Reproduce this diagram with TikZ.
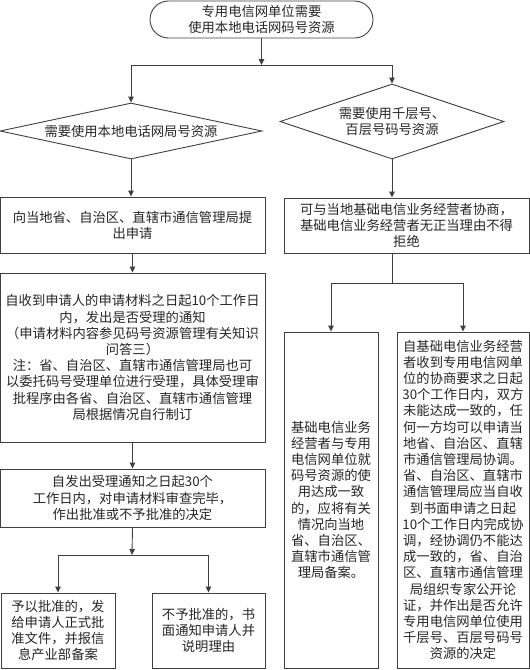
\documentclass[tikz,border=0pt]{standalone}
\usepackage{fontspec}
\setmainfont{Noto Sans CJK SC}
\usetikzlibrary{arrows.meta,shapes.geometric,shapes.misc}
\begin{document}
\begin{tikzpicture}[x=1pt,y=-1pt,
  every node/.style={font=\fontsize{13.3pt}{16.2pt}\selectfont, text=black!85, align=center, inner sep=0pt},
  line/.style={draw=black!75, line width=0.9pt},
  box/.style={line, rectangle, anchor=center},
  term/.style={line, rounded rectangle},
  dec/.style={line, diamond},
  arr/.style={line, -{Triangle[length=6pt,width=5.5pt]}},
  plain/.style={line}
]
\useasboundingbox (0,0) rectangle (530,670);
% top terminal
\node[term, minimum width=223pt, minimum height=37pt] (top) at (261.5,19.5) {专用电信网单位需要\\使用本地电话网码号资源};
% diamonds
\node[dec, shape aspect=4.7, minimum width=262pt, minimum height=56pt] (dl) at (131,131) {需要使用本地电话网局号资源};
\node[dec, shape aspect=3, minimum width=224pt, minimum height=75pt] (dr) at (392,121.5) {需要使用千层号、\\百层号码号资源};
% left column
\node[box, minimum width=265pt, minimum height=56pt] (l1) at (132.5,225) {向当地省、自治区、直辖市通信管理局提\\出申请};
\node[box, minimum width=265pt, minimum height=169pt] (l2) at (132.5,357.5) {自收到申请人的申请材料之日起10个工作日\\内，发出是否受理的通知\\（申请材料内容参见码号资源管理有关知识\\问答三）\\注：省、自治区、直辖市通信管理局也可\\以委托码号受理单位进行受理，具体受理审\\批程序由各省、自治区、直辖市通信管理\\局根据情况自行制订};
\node[box, minimum width=265pt, minimum height=58pt] (l3) at (132.5,498) {自发出受理通知之日起30个\\工作日内，对申请材料审查完毕，\\作出批准或不予批准的决定};
\node[box, minimum width=114pt, minimum height=75pt] (l4) at (58,630.5) {予以批准的，发\\给申请人正式批\\准文件，并报信\\息产业部备案};
\node[box, minimum width=113pt, minimum height=75pt] (l5) at (208.5,630.5) {不予批准的，书\\面通知申请人并\\说明理由};
% right column
\node[box, minimum width=245pt, minimum height=55pt] (r1) at (406.5,225.5) {可与当地基础电信业务经营者协商，\\基础电信业务经营者无正当理由不得\\拒绝};
\node[box, minimum width=94pt, minimum height=336pt] (r2) at (331,500) {基础电信业务\\经营者与专用\\电信网单位就\\码号资源的使\\用达成一致\\的，应将有关\\情况向当地\\省、自治区、\\直辖市通信管\\理局备案。};
\node[box, minimum width=132pt, minimum height=336pt] (r3) at (463,500) {自基础电信业务经营\\者收到专用电信网单\\位的协商要求之日起\\30个工作日内，双方\\未能达成一致的，任\\何一方均可以申请当\\地省、自治区、直辖\\市通信管理局协调。\\省、自治区、直辖市\\通信管理局应当自收\\到书面申请之日起\\10个工作日内完成协\\调，经协调仍不能达\\成一致的，省、自治\\区、直辖市通信管理\\局组织专家公开论\\证，并作出是否允许\\专用电信网单位使用\\千层号、百层号码号\\资源的决定};
% junction coordinates
\coordinate (j1) at (261.5,65);
\coordinate (j2) at (132,555);
\coordinate (j3) at (392,283);
% connectors
\draw[arr] (top.south) -- (j1);
\draw[plain] (dl.north |- j1) -- (dr.north |- j1);
\draw[arr] (dl.north |- j1) -- (dl.north);
\draw[arr] (dr.north |- j1) -- (dr.north);
\draw[arr] (dl.south) -- (dl.south |- l1.north);
\draw[arr] (l1.south) -- (l2.north);
\draw[arr] (l2.south) -- (l3.north);
\draw[arr] (l3.south) -- (j2);
\draw[plain] (l4.north |- j2) -- (l5.north |- j2);
\draw[arr] (l4.north |- j2) -- (l4.north);
\draw[arr] (l5.north |- j2) -- (l5.north);
\draw[arr] (dr.south) -- (dr.south |- r1.north);
\draw[plain] (dr.south |- r1.south) -- (j3);
\draw[plain] (r2.north |- j3) -- (r3.north |- j3);
\draw[arr] (r2.north |- j3) -- (r2.north);
\draw[arr] (r3.north |- j3) -- (r3.north);
\end{tikzpicture}
\end{document}
